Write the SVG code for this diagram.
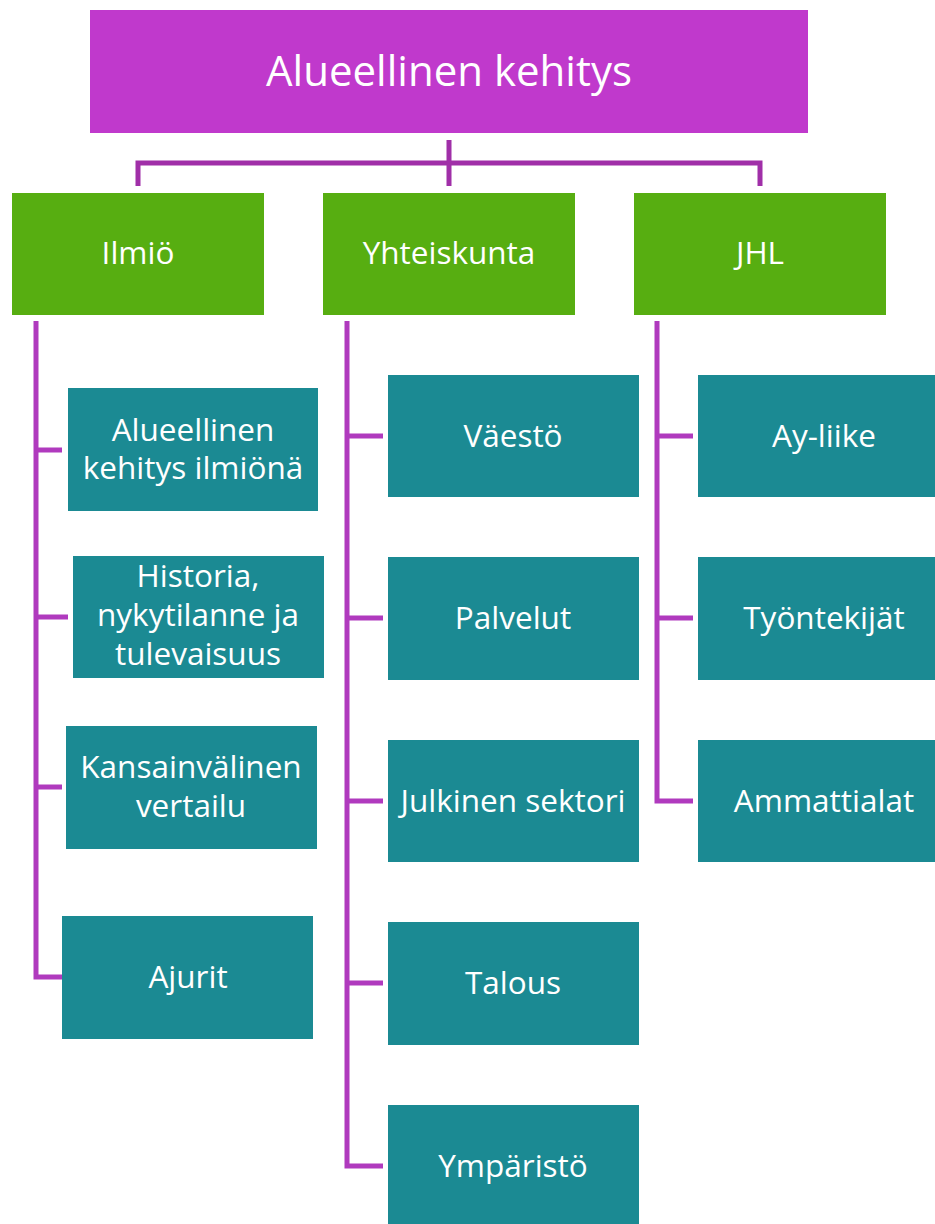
<svg xmlns="http://www.w3.org/2000/svg" width="935" height="1224" viewBox="0 0 935 1224">
<style>
text{font-family:"Open Sans","Noto Sans",sans-serif;fill:#fff;text-anchor:middle}
.root{fill:#C039CC}
.lvl1{fill:#57AE11}
.leaf{fill:#1B8A93}
.t1{font-size:31.5px}
.t2{font-size:31.5px}
.c{fill:none;stroke:#B03ABE;stroke-width:5}
.ctop{fill:none;stroke:#A02FA8;stroke-width:5}
</style>
<rect width="935" height="1224" fill="#fff"/>
<g id="connectors">
<path class="ctop" d="M449 140V186M138 186V163H760V186"/>
<path class="c" d="M36 321V977H62M36 450H62M36 617H68M36 787H62"/>
<path class="c" d="M347 321V1166H383M347 436H383M347 618H383M347 801H383M347 983H383"/>
<path class="c" d="M657 321V801H693M657 436H693M657 618H693"/>
</g>
<g id="n-root"><rect class="root" x="90" y="10" width="718" height="123"/><text x="449" y="86" style="font-size:42px">Alueellinen kehitys</text></g>
<g id="n-ilmio"><rect class="lvl1" x="12" y="193" width="252" height="122"/><text class="t1" x="138" y="264">Ilmiö</text></g>
<g id="n-yhteiskunta"><rect class="lvl1" x="323" y="193" width="252" height="122"/><text class="t1" x="449" y="264">Yhteiskunta</text></g>
<g id="n-jhl"><rect class="lvl1" x="634" y="193" width="252" height="122"/><text class="t1" x="760" y="264">JHL</text></g>
<g id="n-ilmiona"><rect class="leaf" x="68" y="388" width="250" height="123"/><text class="t2" x="193" y="441">Alueellinen</text><text class="t2" x="193" y="479">kehitys ilmiönä</text></g>
<g id="n-historia"><rect class="leaf" x="73" y="556" width="251" height="122"/><text class="t2" x="198" y="587">Historia,</text><text class="t2" x="198" y="626">nykytilanne ja</text><text class="t2" x="198" y="665">tulevaisuus</text></g>
<g id="n-kansainvalinen"><rect class="leaf" x="66" y="726" width="251" height="123"/><text class="t2" x="191" y="778">Kansainvälinen</text><text class="t2" x="191" y="817">vertailu</text></g>
<g id="n-ajurit"><rect class="leaf" x="62" y="916" width="251" height="123"/><text class="t2" x="188" y="988">Ajurit</text></g>
<g id="n-vaesto"><rect class="leaf" x="388" y="375" width="251" height="122"/><text class="t2" x="513" y="447">Väestö</text></g>
<g id="n-palvelut"><rect class="leaf" x="388" y="557" width="251" height="123"/><text class="t2" x="513" y="629">Palvelut</text></g>
<g id="n-julkinen"><rect class="leaf" x="388" y="740" width="251" height="122"/><text class="t2" x="513" y="812">Julkinen sektori</text></g>
<g id="n-talous"><rect class="leaf" x="388" y="922" width="251" height="123"/><text class="t2" x="513" y="994">Talous</text></g>
<g id="n-ymparisto"><rect class="leaf" x="388" y="1105" width="251" height="122"/><text class="t2" x="513" y="1177">Ympäristö</text></g>
<g id="n-ayliike"><rect class="leaf" x="698" y="375" width="251" height="122"/><text class="t2" x="824" y="447">Ay-liike</text></g>
<g id="n-tyontekijat"><rect class="leaf" x="698" y="557" width="251" height="123"/><text class="t2" x="824" y="629">Työntekijät</text></g>
<g id="n-ammattialat"><rect class="leaf" x="698" y="740" width="251" height="122"/><text class="t2" x="824" y="812">Ammattialat</text></g>
</svg>
